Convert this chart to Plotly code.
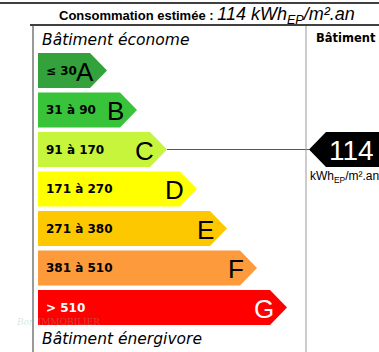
import plotly.graph_objects as go

# ---- data ----
classes = ["A", "B", "C", "D", "E", "F", "G"]
ranges = ["≤ 30", "31 à 90", "91 à 170", "171 à 270", "271 à 380", "381 à 510", "> 510"]
colors = ["#33a23c", "#39c33a", "#c6f53b", "#ffff00", "#fec800", "#fd9a3b", "#fe0000"]
range_colors = ["#000000", "#000000", "#000000", "#000000", "#000000", "#000000", "#ffffff"]
value = 114
value_class = 2  # index of class C
title_prefix = "Consommation estimée : "
unit = "kWh<sub>EP</sub>/m².an"

# ---- layout geometry (pixel-like axis units) ----
W, H = 379, 352
x0 = 38
top0 = 53
pitch = 39.5
bh = 35
tip0 = 107
tip_step = 30
head = 17

fig = go.Figure()

for i, (c, r, col, rc) in enumerate(zip(classes, ranges, colors, range_colors)):
    y1 = top0 + i * pitch
    y2 = y1 + bh
    ym = (y1 + y2) / 2
    tip = tip0 + i * tip_step
    xs = [x0, tip - head, tip, tip - head, x0, x0]
    ys = [y1, y1, ym, y2, y2, y1]
    fig.add_trace(go.Scatter(x=xs, y=ys, fill="toself", fillcolor=col, mode="lines",
                             line=dict(width=0, color=col), hoverinfo="skip", showlegend=False))
    fig.add_annotation(x=x0 + 6, y=ym, text="<b>" + r + "</b>", showarrow=False, xanchor="left",
                       yanchor="middle", font=dict(family="DejaVu Sans", size=12, color=rc))
    fig.add_annotation(x=tip - 11, y=ym + 1, text=c, showarrow=False, xanchor="right",
                       yanchor="middle", font=dict(family="Liberation Sans", size=26,
                                                   color="#ffffff" if c == "G" else "#000000"))

# indicator
iy1 = top0 + value_class * pitch
iy2 = iy1 + bh
iym = (iy1 + iy2) / 2
itip = 309
ctip = tip0 + value_class * tip_step
fig.add_trace(go.Scatter(x=[ctip, itip], y=[iym, iym], mode="lines",
                         line=dict(width=1, color="#555555"), hoverinfo="skip", showlegend=False))
fig.add_trace(go.Scatter(x=[itip, itip + head, W + 5, W + 5, itip + head, itip],
                         y=[iym, iy1, iy1, iy2, iy2, iym], fill="toself", fillcolor="#000000",
                         mode="lines", line=dict(width=0, color="#000"), hoverinfo="skip", showlegend=False))
fig.add_annotation(x=351, y=iym + 1, text=str(value), showarrow=False, xanchor="center", yanchor="middle",
                   font=dict(family="Liberation Sans", size=28, color="#ffffff"))
fig.add_annotation(x=308, y=iy2 + 10, text=unit, showarrow=False, xanchor="left", yanchor="middle",
                   font=dict(family="Liberation Sans", size=12, color="#000000"))

# frame lines
fig.add_trace(go.Scatter(x=[0, W], y=[3, 3], mode="lines", line=dict(width=1.5, color="#000"),
                         hoverinfo="skip", showlegend=False))
fig.add_trace(go.Scatter(x=[30, W], y=[25, 25], mode="lines", line=dict(width=1.5, color="#000"),
                         hoverinfo="skip", showlegend=False))
fig.add_trace(go.Scatter(x=[33, 33], y=[26, H], mode="lines", line=dict(width=2, color="#999999"),
                         hoverinfo="skip", showlegend=False))
fig.add_trace(go.Scatter(x=[306, 306], y=[26, H], mode="lines", line=dict(width=1, color="#999999"),
                         hoverinfo="skip", showlegend=False))

# texts
fig.add_annotation(x=57, y=15, text="<b>" + title_prefix + "</b><span style='font-size:18px'><i>" + str(value) + " " + unit + "</i></span>",
                   showarrow=False, xanchor="left", yanchor="middle",
                   font=dict(family="Liberation Sans", size=13, color="#000"))
fig.add_annotation(x=40, y=40, text="<i>Bâtiment économe</i>", showarrow=False, xanchor="left",
                   yanchor="middle", font=dict(family="DejaVu Sans", size=15.5, color="#000"))
fig.add_annotation(x=40, y=339, text="<i>Bâtiment énergivore</i>", showarrow=False, xanchor="left",
                   yanchor="middle", font=dict(family="DejaVu Sans", size=15.5, color="#000"))
fig.add_annotation(x=314, y=38, text="<b>Bâtiment</b>", showarrow=False, xanchor="left",
                   yanchor="middle", font=dict(family="DejaVu Sans", size=11.5, color="#000"))
# faint watermark
fig.add_annotation(x=14, y=322, text="<i>Bon</i> IMMOBILIER", showarrow=False, xanchor="left", yanchor="middle",
                   font=dict(family="DejaVu Serif", size=9, color="rgba(120,190,170,0.35)"))

fig.update_xaxes(range=[0, W], visible=False, fixedrange=True)
fig.update_yaxes(range=[H, 0], visible=False, fixedrange=True)
fig.update_layout(width=W, height=H, margin=dict(l=0, r=0, t=0, b=0),
                  plot_bgcolor="#ffffff", paper_bgcolor="#ffffff", showlegend=False)

fig.write_html("out.html")
